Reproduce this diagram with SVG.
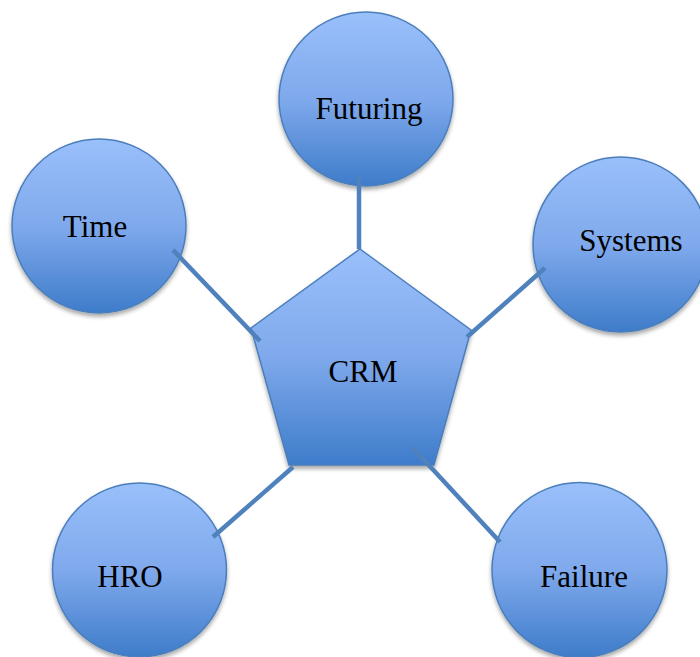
<svg xmlns="http://www.w3.org/2000/svg" width="700" height="657" viewBox="0 0 700 657">
<defs>
<linearGradient id="g" x1="0" y1="0" x2="0" y2="1">
<stop offset="0" stop-color="#9AC0FB"/>
<stop offset="0.5" stop-color="#7FA9EC"/>
<stop offset="1" stop-color="#3E7CCA"/>
</linearGradient>
<filter id="sh" x="-20%" y="-20%" width="140%" height="150%">
<feDropShadow dx="0" dy="3" stdDeviation="2.2" flood-color="#000" flood-opacity="0.35"/>
</filter>
</defs>
<style>
.n{fill:url(#g);stroke:#4A7EBB;stroke-width:1.5;filter:url(#sh)}
.t{font-family:"Liberation Serif","Times New Roman",serif;font-size:31px;fill:#000;text-anchor:middle}
.c{stroke:#4F81BD;stroke-width:4.5;fill:none}
</style>
<rect width="700" height="657" fill="#fff"/>
<g id="crm">
<polygon class="n" points="360,249 471,330 434,465 289,465 251,328"/>
<text class="t" x="363" y="382">CRM</text>
</g>
<g id="futuring">
<circle class="n" cx="366" cy="99" r="87"/>
<text class="t" x="369" y="119">Futuring</text>
</g>
<g id="time">
<circle class="n" cx="99" cy="226" r="87"/>
<text class="t" x="95" y="237">Time</text>
</g>
<g id="systems">
<circle class="n" cx="620.5" cy="244.5" r="87.5"/>
<text class="t" x="631" y="251">Systems</text>
</g>
<g id="hro">
<circle class="n" cx="139.5" cy="570" r="87"/>
<text class="t" x="130" y="587">HRO</text>
</g>
<g id="failure">
<circle class="n" cx="579.5" cy="570" r="87.5"/>
<text class="t" x="584" y="587">Failure</text>
</g>
<g id="connectors">
<line class="c" x1="359" y1="176" x2="359" y2="249"/>
<line class="c" x1="173" y1="250" x2="260" y2="341"/>
<line class="c" x1="545" y1="268" x2="467" y2="337"/>
<line class="c" x1="213" y1="537" x2="293" y2="467"/>
<line class="c" x1="413" y1="448" x2="500" y2="542"/>
</g>
</svg>
